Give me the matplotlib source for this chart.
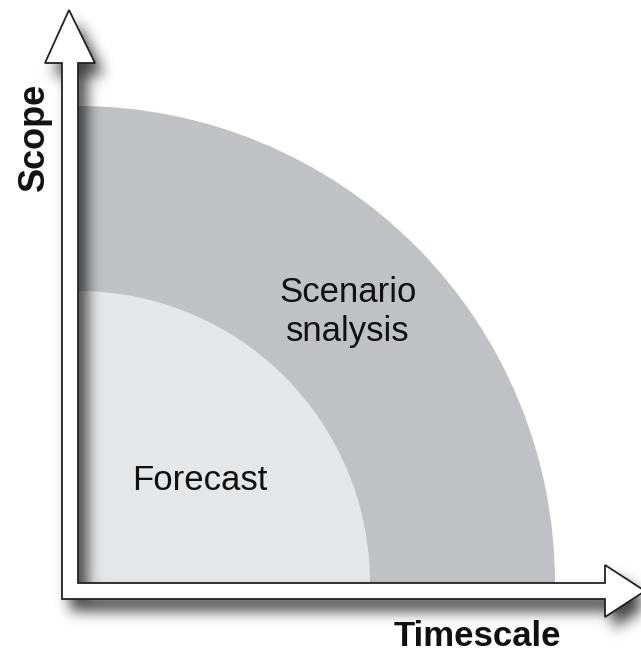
import numpy as np
import matplotlib.pyplot as plt
from matplotlib.patches import Wedge, Polygon
from matplotlib.path import Path

# zones drawn as quarter circles from the origin (radius in px)
zones = ["Scenario\nsnalysis", "Forecast"]
radii = [477, 292]
colors = ["#c0c1c4", "#e5e6e7"]
label_pos = [(348, 312), (200, 480)]

origin = (78, 583)

fig = plt.figure(figsize=(6.41, 6.52), dpi=100)
ax = fig.add_axes([0, 0, 1, 1])
ax.set_xlim(0, 641)
ax.set_ylim(652, 0)
ax.axis("off")

for name, r, c, pos in zip(zones, radii, colors, label_pos):
    ax.add_patch(Wedge(origin, r, 270, 360, facecolor=c, edgecolor="none", zorder=1))
    ax.text(pos[0], pos[1], name, ha="center", va="center", fontsize=25,
            family="Liberation Sans", color="#111111", zorder=5, linespacing=1.2)

# L shaped double arrow outline
arrow = [(62, 599), (62, 63), (45, 63), (69, 10), (95, 63), (78, 63), (78, 583),
         (605, 583), (605, 565), (645, 591), (605, 617), (605, 599)]

# soft drop shadow: blur a mask of the shape
H, W = 652, 641
yy, xx = np.mgrid[0:H, 0:W]
pts = np.column_stack([xx.ravel() - 8, yy.ravel() - 11])
mask = Path(arrow).contains_points(pts).reshape(H, W).astype(float)
k = np.exp(-0.5 * (np.arange(-24, 25) / 7.0) ** 2)
k /= k.sum()
mask = np.apply_along_axis(lambda v: np.convolve(v, k, mode="same"), 0, mask)
mask = np.apply_along_axis(lambda v: np.convolve(v, k, mode="same"), 1, mask)
shadow = np.zeros((H, W, 4))
shadow[..., 3] = np.clip(mask * 0.75, 0, 1)
ax.imshow(shadow, extent=(0, W, H, 0), zorder=2, interpolation="bilinear")

ax.add_patch(Polygon(arrow, closed=True, facecolor="white", edgecolor="#222222",
                     linewidth=1.3, joinstyle="miter", zorder=3))

ax.text(34, 137, "Scope", rotation=90, ha="center", va="center", fontsize=26,
        fontweight="bold", family="Liberation Sans", color="#111111")
ax.text(477, 637, "Timescale", ha="center", va="center", fontsize=25,
        fontweight="bold", family="Liberation Sans", color="#111111")

ax.set_xlim(0, 641)
ax.set_ylim(652, 0)
fig.savefig("out.png", dpi=100)
